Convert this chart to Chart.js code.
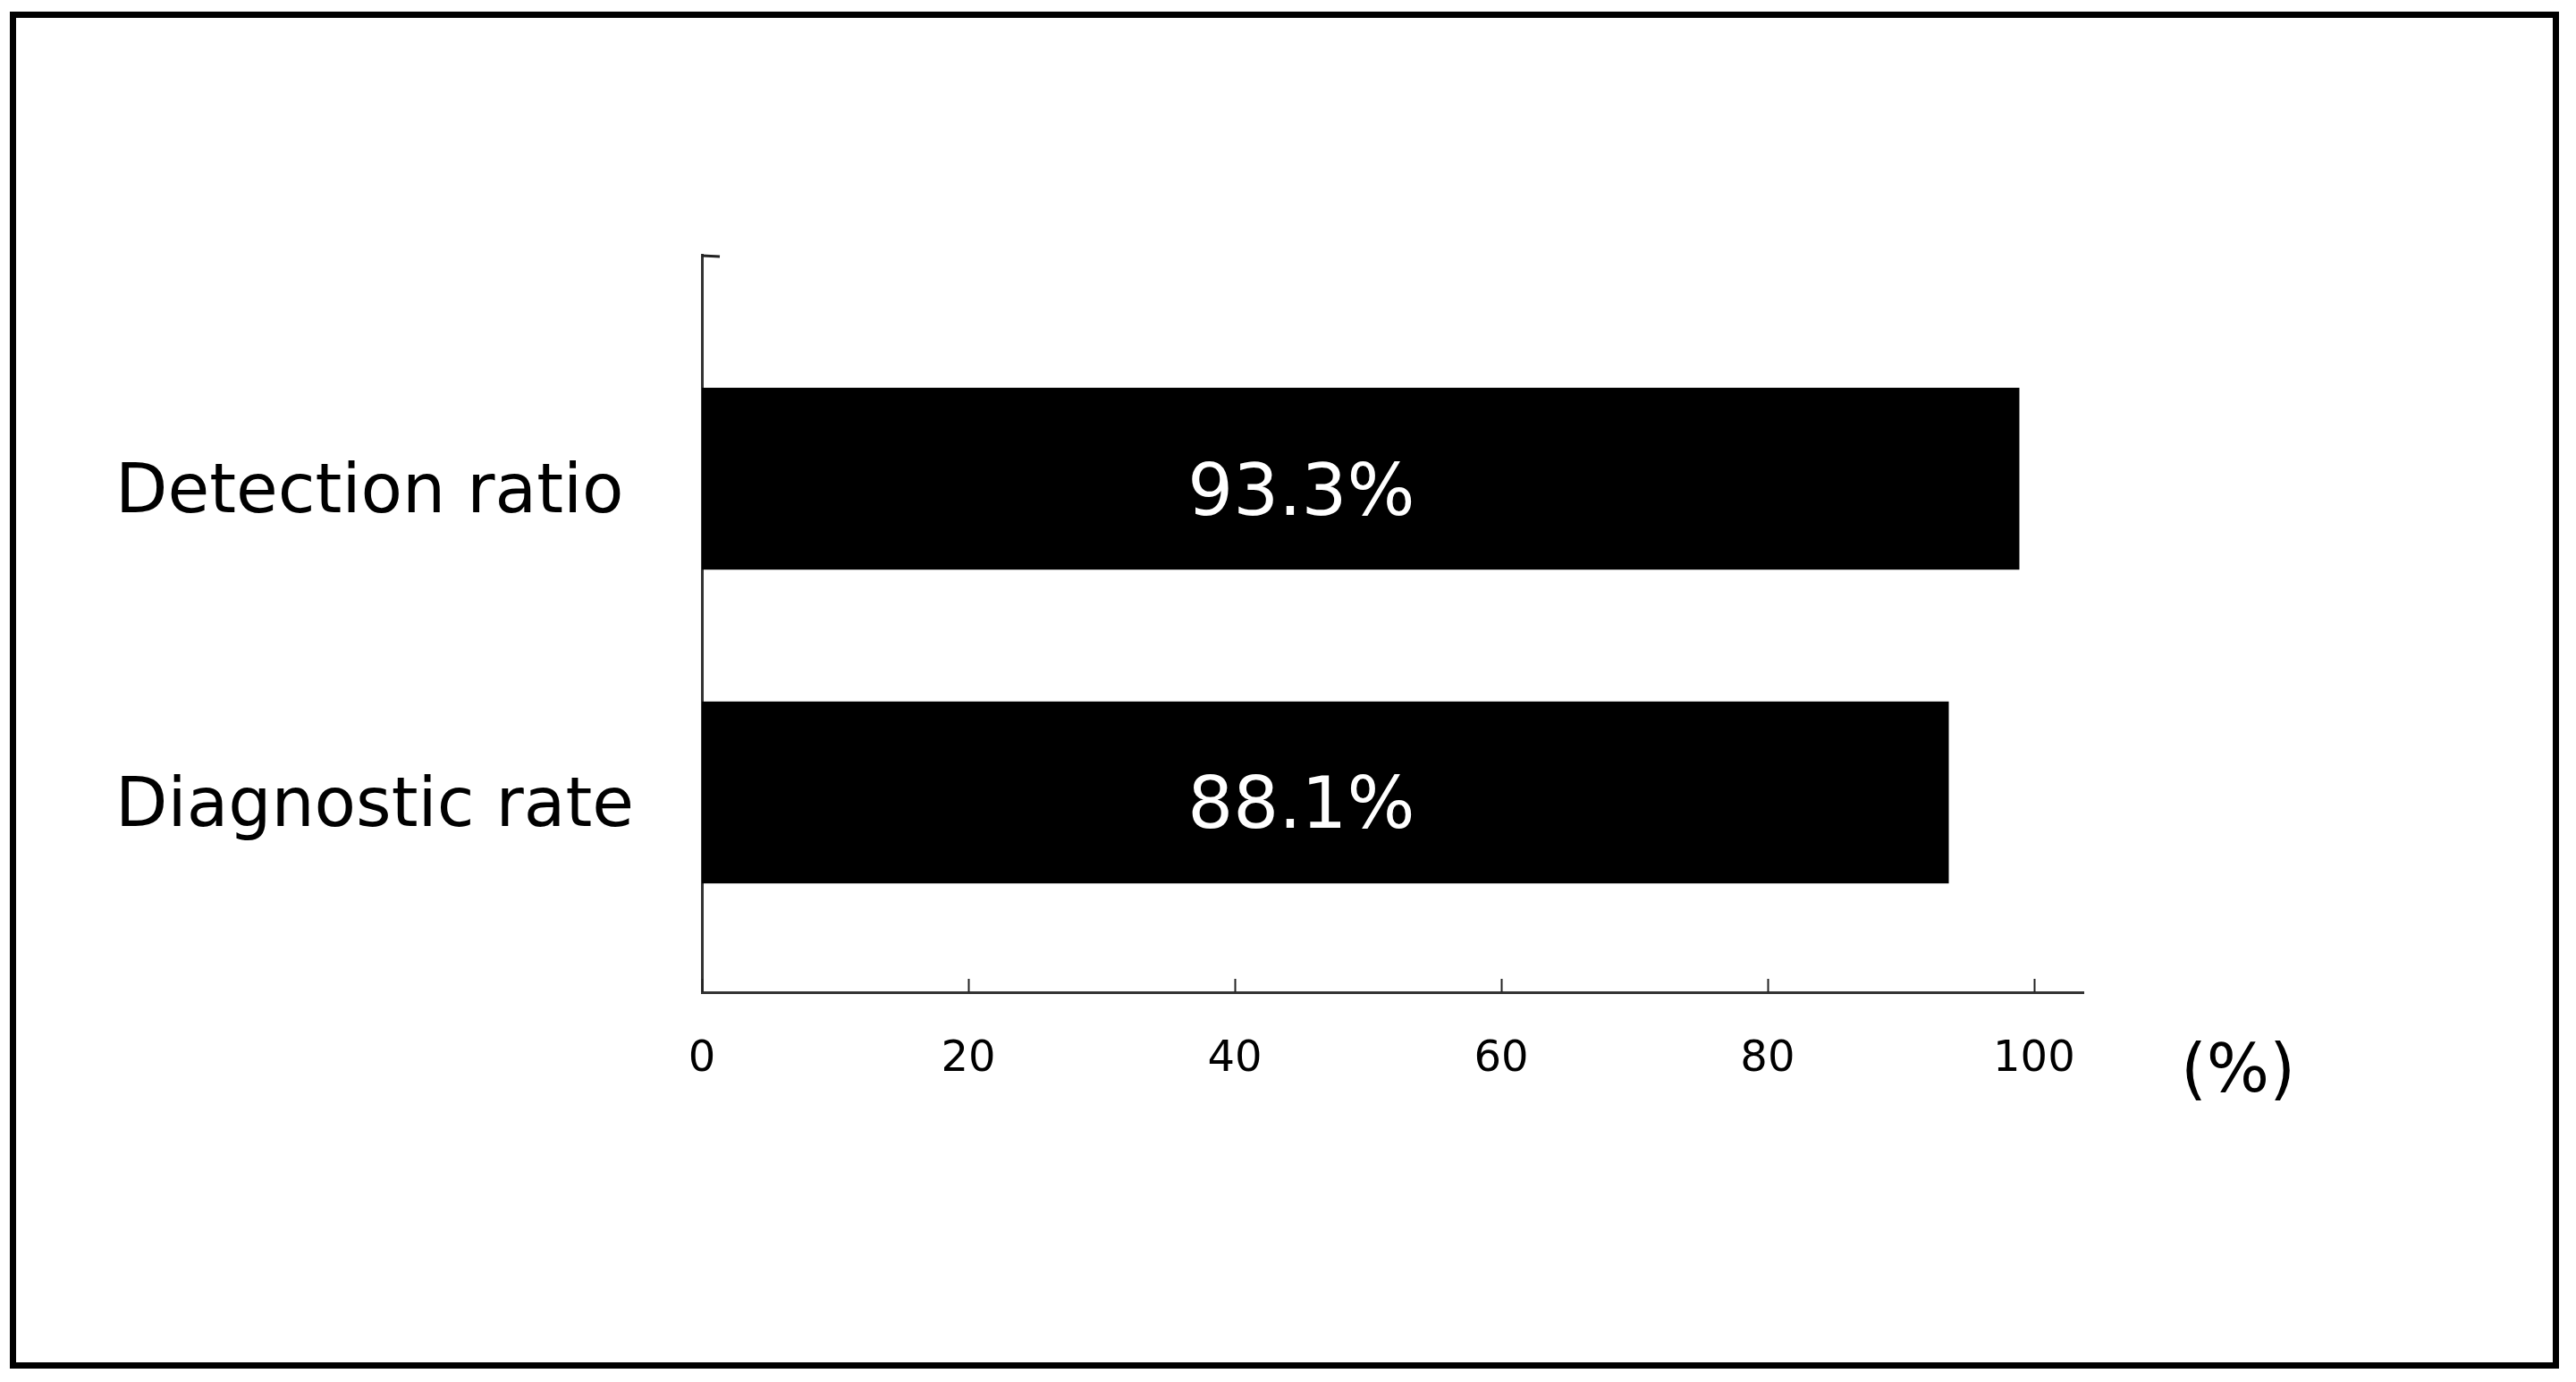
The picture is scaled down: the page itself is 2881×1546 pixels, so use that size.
<!DOCTYPE html>
<html>
<head>
<meta charset="utf-8">
<script src="https://cdn.jsdelivr.net/npm/chart.js@4/dist/chart.umd.min.js"></script>
<style>
  html, body { margin: 0; padding: 0; background: #fff; overflow: hidden; }
  #wrap { position: relative; width: 2881px; height: 1546px; }
  #frame { position: absolute; left: 11px; top: 13px; width: 2851px; height: 1518px; box-sizing: border-box; border: 7px solid #000; pointer-events: none; }
  canvas { position: absolute; left: 0; top: 0; }
</style>
</head>
<body>
<div id="wrap">
  <canvas id="c" width="2881" height="1546"></canvas>
  <div id="frame"></div>
</div>
<script>
// ---- data ----
const categories = ['Detection ratio', 'Diagnostic rate'];
const barValues = [98.9, 93.6];          // bar extents as drawn on the axis
const valueLabels = ['93.3%', '88.1%'];  // printed values inside bars
const tickValues = [0, 20, 40, 60, 80, 100];
const tickLabels = ['0', '20', '40', '60', '80', '100'];
const unitLabel = '(%)';

const FONT = '"DejaVu Sans", Verdana, sans-serif';

const decorPlugin = {
  id: 'decor',
  afterDatasetsDraw(chart) {
    const ctx = chart.ctx;
    const xs = chart.scales.x, ys = chart.scales.y, ca = chart.chartArea;
    ctx.save();
    // value labels inside bars
    ctx.fillStyle = '#fff';
    ctx.font = '80px ' + FONT;
    ctx.textAlign = 'center';
    ctx.textBaseline = 'alphabetic';
    const labelX = xs.getPixelForValue(45);
    valueLabels.forEach((t, i) => {
      const py = ys.getPixelForValue(i);
      ctx.fillText(t, labelX, py + 40);
    });
    // inward tick marks on x axis
    ctx.strokeStyle = '#222';
    ctx.lineWidth = 2;
    tickValues.forEach(v => {
      const px = Math.round(xs.getPixelForValue(v)) + 0.5;
      ctx.beginPath();
      ctx.moveTo(px, ca.bottom);
      ctx.lineTo(px, ca.bottom - 15);
      ctx.stroke();
    });
    // small tick at top of y axis
    ctx.lineWidth = 3;
    ctx.beginPath();
    ctx.moveTo(ca.left, ca.top + 1);
    ctx.lineTo(ca.left + 20, ca.top + 2);
    ctx.stroke();
    // unit label
    ctx.fillStyle = '#000';
    ctx.font = '74px ' + FONT;
    ctx.textAlign = 'center';
    ctx.textBaseline = 'middle';
    ctx.fillText(unitLabel, ca.right + 173, ca.bottom + 92);
    ctx.restore();
  }
};

new Chart(document.getElementById('c'), {
  type: 'bar',
  data: {
    datasets: [{
      data: barValues.map((v, i) => ({ x: v, y: i })),
      backgroundColor: '#000',
      borderWidth: 0,
      categoryPercentage: 1,
      barPercentage: 0.58
    }]
  },
  options: {
    indexAxis: 'y',
    responsive: false,
    animation: false,
    devicePixelRatio: 1,
    layout: { padding: { left: 129, top: 285, right: 551, bottom: 0 } },
    plugins: { legend: { display: false }, tooltip: { enabled: false } },
    scales: {
      x: {
        type: 'linear',
        min: 0,
        max: 103.7,
        offset: false,
        afterBuildTicks: s => { s.ticks = tickValues.map(v => ({ value: v })); },
        afterFit: s => { s.height = 436; },
        grid: { display: false, drawTicks: false, offset: false },
        border: { display: true, color: '#333', width: 3 },
        ticks: {
          color: '#000',
          padding: 47,
          font: { family: FONT, size: 48 },
          callback: (v) => tickLabels[tickValues.indexOf(v)]
        }
      },
      y: {
        type: 'linear',
        reverse: true,
        min: -0.714,
        max: 1.637,
        offset: false,
        afterBuildTicks: s => { s.ticks = categories.map((c, i) => ({ value: i })); },
        afterFit: s => { s.width = 656; },
        grid: { display: false, drawTicks: false, offset: false },
        border: { display: true, color: '#333', width: 3 },
        ticks: {
          color: '#000',
          crossAlign: 'far',
          padding: 0,
          font: { family: FONT, size: 76, lineHeight: '36px' },
          callback: (v) => ['', categories[v]]
        }
      }
    }
  },
  plugins: [decorPlugin]
});
</script>
</body>
</html>
